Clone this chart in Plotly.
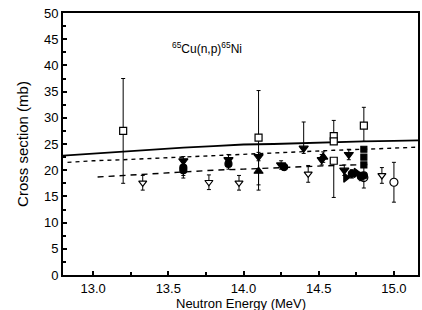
import plotly.graph_objects as go

# Curves
solid_x = [12.8, 13.0, 13.2, 13.4, 13.6, 13.8, 14.0, 14.2, 14.4, 14.6, 14.8, 15.0, 15.16]
solid_y = [22.8, 23.2, 23.6, 24.0, 24.3, 24.6, 24.9, 25.0, 25.2, 25.4, 25.5, 25.6, 25.7]
dash1_x = [12.83, 13.0, 13.2, 13.5, 13.8, 14.0, 14.3, 14.6, 14.9, 15.16]
dash1_y = [21.5, 21.8, 22.0, 22.4, 22.7, 23.0, 23.4, 23.8, 24.1, 24.4]
dash2_x = [13.03, 13.2, 13.5, 13.8, 14.0, 14.3, 14.6, 14.85]
dash2_y = [18.7, 19.0, 19.5, 20.0, 20.2, 20.6, 20.9, 21.1]

# Data points
osq_x = [13.2, 14.1, 14.6, 14.6, 14.6, 14.8]
osq_y = [27.5, 26.2, 26.5, 25.5, 21.8, 28.5]
osq_ep = [10.0, 9.0, 3.0, 0.0, 0.0, 3.5]
osq_em = [10.0, 9.0, 0.0, 0.0, 7.0, 3.0]

ocir_x = [15.0, 14.8]
ocir_y = [17.7, 18.6]
ocir_e = [3.8, 0.0]

oy_x = [13.33, 13.77, 13.97, 14.43, 14.92]
oy_y = [17.6, 17.7, 17.6, 19.3, 19.0]
oy_e = [1.4, 1.4, 1.4, 1.6, 1.5]

ftd_x = [13.6, 13.9, 14.1, 14.25, 14.4, 14.52, 14.7, 14.67]
ftd_y = [21.8, 22.0, 22.6, 21.0, 24.2, 22.0, 23.0, 20.0]
ftd_ep = [0.8, 1.0, 0.8, 0.8, 5.0, 1.0, 1.0, 1.0]
ftd_em = [0.8, 1.0, 0.8, 0.8, 1.0, 1.0, 1.0, 1.0]

ftu_x = [14.1, 14.53]
ftu_y = [19.8, 22.5]
ftu_ep = [3.0, 1.0]
ftu_em = [3.6, 1.0]

fcir_x = [13.6, 13.6, 13.9, 14.27, 14.72, 14.8, 14.78]
fcir_y = [20.5, 20.0, 21.2, 20.6, 19.3, 19.0, 18.8]
fcir_e = [1.5, 1.5, 1.0, 0.6, 0.8, 2.4, 0.8]

fsq_x = [14.8, 14.8, 14.8]
fsq_y = [24.0, 22.5, 21.0]

ftr_x = [14.68, 14.75]
ftr_y = [18.6, 19.5]

x_ticks = [13.0, 13.5, 14.0, 14.5, 15.0]
x_labels = ["13.0", "13.5", "14.0", "14.5", "15.0"]
y_ticks = [0, 5, 10, 15, 20, 25, 30, 35, 40, 45, 50]

fig = go.Figure()

fig.add_trace(go.Scatter(x=solid_x, y=solid_y, mode="lines",
                         line=dict(color="black", width=1.8)))
fig.add_trace(go.Scatter(x=dash1_x, y=dash1_y, mode="lines",
                         line=dict(color="black", width=1.4, dash="4px,4px")))
fig.add_trace(go.Scatter(x=dash2_x, y=dash2_y, mode="lines",
                         line=dict(color="black", width=1.4, dash="6px,5px")))

def pts(x, y, symbol, size, ep=None, em=None, filled=True):
    err = None
    if ep is not None:
        err = dict(type="data", symmetric=em is None, array=ep,
                   arrayminus=em if em is not None else None,
                   color="black", thickness=1, width=2)
    fig.add_trace(go.Scatter(
        x=x, y=y, mode="markers",
        marker=dict(symbol=symbol, size=size,
                    color="black" if filled else "white",
                    line=dict(color="black", width=1.2)),
        error_y=err))

pts(osq_x, osq_y, "square", 7, osq_ep, osq_em, filled=False)
pts(ocir_x, ocir_y, "circle", 8, ocir_e, filled=False)
pts(oy_x, oy_y, "triangle-down", 7, oy_e, filled=False)
pts(ftd_x, ftd_y, "triangle-down", 8, ftd_ep, ftd_em)
pts(ftu_x, ftu_y, "triangle-up", 8, ftu_ep, ftu_em)
pts(fcir_x, fcir_y, "circle", 7, fcir_e)
pts(fsq_x, fsq_y, "square", 6)
pts(ftr_x, ftr_y, "triangle-right", 8)

fam = "Liberation Sans, Arial, sans-serif"
tick_font = dict(family=fam, size=13, color="black")

fig.add_annotation(x=13.76, y=43.3, xref="x", yref="y", showarrow=False,
                   text="<sup>65</sup>Cu(n,p)<sup>65</sup>Ni",
                   font=dict(family=fam, size=12, color="black"))

# x-axis title
fig.add_annotation(x=0.5, y=-0.11, xref="paper", yref="paper", showarrow=False,
                   yanchor="middle",
                   text="Neutron Energy (MeV)",
                   font=dict(family=fam, size=13, color="black"))

fig.update_layout(
    width=422, height=310,
    margin=dict(l=63, r=2, t=13, b=35),
    paper_bgcolor="white", plot_bgcolor="white",
    showlegend=False,
    font=tick_font,
    xaxis=dict(range=[12.8, 15.16], tickvals=x_ticks, ticktext=x_labels,
               ticks="inside", ticklen=4, tickwidth=1.5, tickcolor="black",
               ticklabelstandoff=0,
               minor=dict(dtick=0.25, ticks="inside", ticklen=3, tickcolor="black"),
               showline=True, linecolor="black", linewidth=2, mirror=True,
               showgrid=False, zeroline=False,
               tickfont=tick_font),
    yaxis=dict(range=[0, 50], tickvals=y_ticks,
               ticks="inside", ticklen=4, tickwidth=1.5, tickcolor="black",
               minor=dict(dtick=2.5, ticks="inside", ticklen=3, tickcolor="black"),
               showline=True, linecolor="black", linewidth=2, mirror=True,
               showgrid=False, zeroline=False,
               title=dict(text="Cross section (mb)", font=dict(family=fam, size=15, color="black"), standoff=12),
               tickfont=tick_font),
)

fig.write_html("out.html", config={"displayModeBar": False},
               post_script="document.body.style.margin='0px';")
